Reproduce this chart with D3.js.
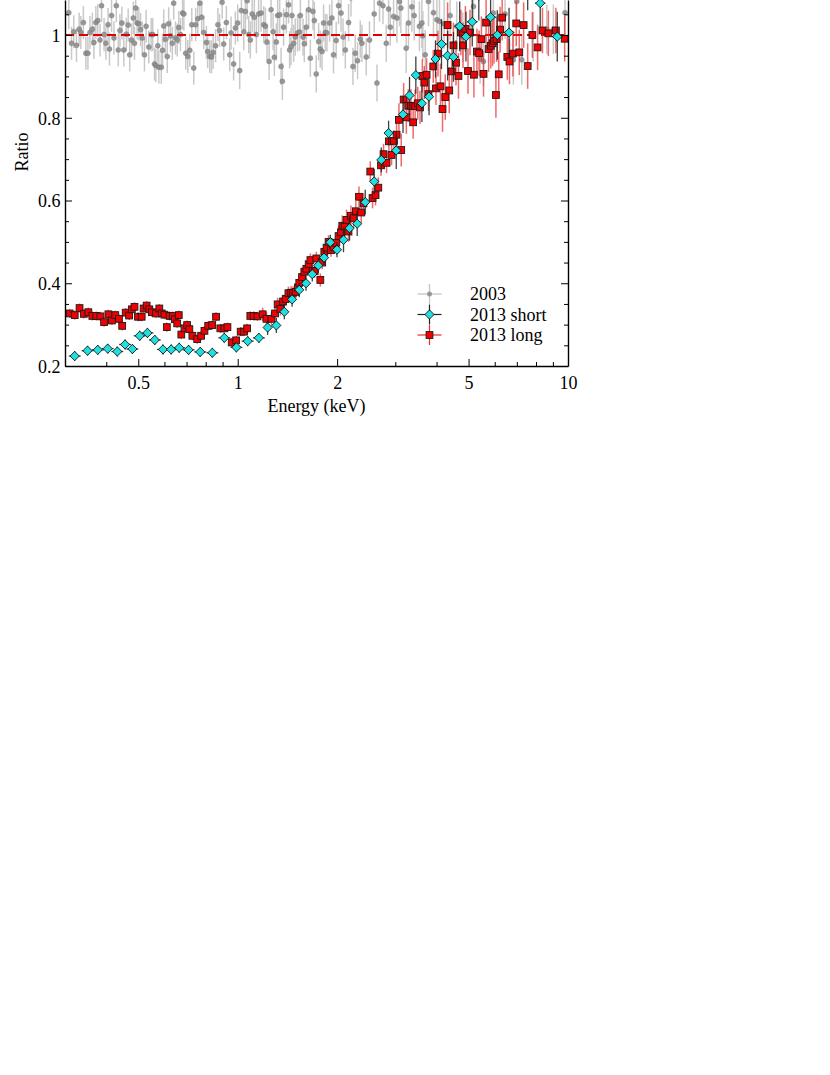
<!DOCTYPE html>
<html><head><meta charset="utf-8">
<script src="https://cdn.jsdelivr.net/npm/d3@7"></script>
<style>
body{margin:0;background:#fff}
svg{display:block}
text{font-family:"Liberation Serif","Times New Roman",serif;font-size:18px;fill:#000}
</style>
</head><body>
<svg id="chart" width="830" height="1075"></svg>
<script>
// ---------- data (energy keV, ratio) ----------
const series2003 = [
[0.308,1.054],[0.314,0.980],[0.319,1.008],[0.325,0.975],[0.331,1.014],[0.335,1.006],[0.341,1.030],[0.347,0.956],
[0.352,0.956],[0.357,1.006],[0.363,1.014],[0.367,0.982],[0.372,1.030],[0.377,1.035],[0.383,0.988],[0.387,1.071],
[0.394,1.001],[0.399,0.980],[0.405,1.025],[0.409,0.966],[0.415,1.047],[0.422,0.993],[0.429,1.071],[0.435,0.964],
[0.440,1.011],[0.446,1.029],[0.452,0.964],[0.460,1.002],[0.466,1.024],[0.471,0.952],[0.477,0.988],[0.483,1.041],
[0.487,0.980],[0.491,1.065],[0.496,1.029],[0.502,1.027],[0.508,1.013],[0.514,0.993],[0.522,0.952],[0.528,1.021],
[0.538,0.971],[0.547,1.001],[0.553,1.001],[0.560,0.930],[0.565,0.926],[0.573,0.974],[0.577,0.922],[0.587,0.922],
[0.592,0.963],[0.597,1.022],[0.604,0.990],[0.612,0.948],[0.618,1.027],[0.626,0.998],[0.634,0.980],[0.640,1.077],
[0.648,0.993],[0.656,0.988],[0.663,1.018],[0.671,1.001],[0.681,1.053],[0.687,1.051],[0.696,0.956],[0.706,0.948],
[0.716,0.963],[0.726,1.025],[0.736,0.920],[0.746,1.025],[0.757,1.039],[0.768,1.077],[0.778,1.043],[0.789,1.006],
[0.804,0.982],[0.811,0.960],[0.823,0.948],[0.833,0.947],[0.843,0.958],[0.857,0.974],[0.871,1.025],[0.881,1.011],
[0.897,1.079],[0.907,0.978],[0.924,1.030],[0.946,0.952],[0.955,1.005],[0.972,0.930],[0.984,1.017],[1.000,1.029],
[1.014,0.914],[1.026,1.059],[1.043,1.008],[1.055,1.057],[1.068,1.083],[1.080,1.001],[1.092,0.988],[1.106,1.051],
[1.123,1.043],[1.139,1.001],[1.157,1.051],[1.177,1.053],[1.199,1.025],[1.213,1.021],[1.227,0.983],[1.245,0.936],
[1.262,1.061],[1.280,1.008],[1.291,0.946],[1.309,0.983],[1.321,1.047],[1.340,1.049],[1.353,0.924],[1.365,0.888],
[1.377,1.019],[1.404,1.049],[1.426,1.073],[1.436,0.964],[1.450,0.972],[1.460,1.047],[1.477,0.980],[1.494,0.995],
[1.518,1.005],[1.539,1.007],[1.548,1.047],[1.577,0.995],[1.591,0.979],[1.614,1.019],[1.640,1.061],[1.659,0.944],
[1.690,1.057],[1.706,1.035],[1.729,0.906],[1.758,0.984],[1.778,0.966],[1.800,0.960],[1.820,1.029],[1.842,1.006],
[1.863,1.005],[1.898,1.029],[1.929,1.041],[1.950,0.952],[1.987,0.987],[2.020,1.071],[2.055,1.053],[2.084,0.995],
[2.117,0.964],[2.166,1.030],[2.203,1.090],[2.233,0.924],[2.269,0.956],[2.306,0.938],[2.350,0.990],[2.377,0.980],
[2.450,0.947],[2.506,0.988],[2.590,1.051],[2.640,0.884],[2.688,1.077],[2.753,1.071],[2.817,0.980],[2.863,1.063],
[2.897,1.019],[2.964,1.045],[3.034,1.041],[3.090,1.081],[3.119,1.065],[3.236,0.968],[3.289,1.029],[3.367,1.068],
[3.422,1.047],[3.550,1.021],[3.611,1.029],[3.635,0.998],[3.696,0.952],[3.781,1.081],[3.915,1.054],[4.009,1.037],
[4.083,1.033],[4.217,1.027],[4.397,1.047],[4.606,1.021],[4.804,0.995],[5.174,1.069],[5.420,0.942],[5.546,0.936],
[5.943,1.053],[6.447,1.051],[6.833,0.940],[6.996,1.081],[7.245,0.940],[7.852,0.996],[8.624,1.014],[9.030,1.014],
[9.794,1.054]
];
const series2013short = [
[0.321,0.224],[0.351,0.237],[0.377,0.239],[0.404,0.242],[0.432,0.235],[0.456,0.252],[0.480,0.241],[0.505,0.273],
[0.533,0.280],[0.561,0.263],[0.594,0.240],[0.629,0.240],[0.665,0.244],[0.710,0.239],[0.770,0.234],[0.838,0.232],
[0.911,0.268],[0.991,0.245],[1.072,0.260],[1.159,0.268],[1.232,0.293],[1.309,0.298],[1.384,0.331],[1.461,0.361],
[1.536,0.384],[1.610,0.400],[1.682,0.422],[1.754,0.443],[1.826,0.462],[1.907,0.499],[1.998,0.481],[2.091,0.505],
[2.181,0.533],[2.300,0.544],[2.433,0.596],[2.590,0.646],[2.721,0.698],[2.863,0.763],[3.020,0.721],[3.166,0.808],
[3.313,0.854],[3.462,0.903],[3.611,0.835],[3.796,0.851],[3.970,0.942],[4.140,0.978],[4.320,0.950],[4.500,0.947],
[4.700,1.021],[4.910,0.996],[5.130,1.032],[5.370,1.095],[5.830,1.043],[6.110,1.000],[6.630,1.006],[7.550,1.120],
[8.240,1.077],[9.280,0.996]
];
const series2013long = [
[0.310,0.327],[0.321,0.323],[0.332,0.340],[0.342,0.326],[0.353,0.330],[0.363,0.321],[0.373,0.321],[0.384,0.320],
[0.394,0.306],[0.406,0.325],[0.416,0.310],[0.426,0.323],[0.437,0.314],[0.447,0.297],[0.458,0.329],[0.469,0.322],
[0.478,0.337],[0.487,0.343],[0.499,0.319],[0.512,0.319],[0.519,0.339],[0.530,0.346],[0.540,0.337],[0.550,0.330],
[0.566,0.327],[0.579,0.339],[0.589,0.327],[0.600,0.324],[0.610,0.294],[0.622,0.321],[0.636,0.321],[0.645,0.313],
[0.656,0.303],[0.663,0.323],[0.675,0.276],[0.690,0.291],[0.703,0.299],[0.714,0.289],[0.729,0.273],[0.754,0.265],
[0.775,0.273],[0.793,0.285],[0.814,0.297],[0.837,0.299],[0.860,0.319],[0.886,0.291],[0.911,0.291],[0.931,0.294],
[0.959,0.257],[0.989,0.262],[1.021,0.283],[1.045,0.283],[1.068,0.291],[1.092,0.321],[1.118,0.321],[1.148,0.320],
[1.190,0.325],[1.222,0.314],[1.265,0.314],[1.297,0.327],[1.321,0.349],[1.346,0.338],[1.372,0.356],[1.397,0.362],
[1.424,0.376],[1.451,0.377],[1.471,0.377],[1.498,0.379],[1.522,0.390],[1.536,0.401],[1.566,0.415],[1.591,0.428],
[1.614,0.435],[1.640,0.446],[1.660,0.456],[1.686,0.430],[1.710,0.429],[1.730,0.460],[1.779,0.408],[1.803,0.450],
[1.829,0.476],[1.858,0.486],[1.884,0.500],[1.916,0.480],[1.951,0.487],[1.988,0.498],[2.020,0.514],[2.054,0.523],
[2.073,0.539],[2.107,0.537],[2.136,0.553],[2.165,0.525],[2.202,0.563],[2.243,0.557],[2.279,0.574],[2.329,0.609],
[2.366,0.571],[2.403,0.593],[2.520,0.670],[2.560,0.606],[2.614,0.613],[2.665,0.631],[2.716,0.685],[2.764,0.712],
[2.823,0.691],[2.869,0.743],[2.924,0.710],[2.972,0.744],[3.027,0.759],[3.077,0.795],[3.127,0.722],[3.180,0.844],
[3.240,0.801],[3.283,0.829],[3.346,0.829],[3.398,0.789],[3.445,0.828],[3.509,0.835],[3.564,0.825],[3.622,0.901],
[3.672,0.885],[3.732,0.904],[3.781,0.857],[3.909,0.924],[3.984,0.871],[4.040,0.955],[4.110,0.876],[4.170,0.821],
[4.250,0.850],[4.320,1.024],[4.370,0.866],[4.450,0.912],[4.500,0.975],[4.580,0.933],[4.660,0.901],[4.740,1.006],
[4.810,0.975],[4.890,1.015],[4.980,0.913],[5.050,1.006],[5.190,0.904],[5.300,0.960],[5.380,0.956],[5.470,0.990],
[5.550,0.906],[5.650,1.030],[5.750,0.966],[5.840,0.974],[5.910,0.980],[5.970,0.986],[6.050,0.855],[6.080,0.990],
[6.170,0.905],[6.230,1.013],[6.320,1.042],[6.550,0.947],[6.650,0.936],[6.810,0.955],[6.970,1.028],[7.120,0.958],
[7.340,1.024],[7.550,0.925],[7.800,1.000],[8.090,0.970],[8.370,1.011],[8.720,1.004],[9.190,1.011],[9.770,0.991]
];
// estimated 1-sigma ratio errors, by energy band: [band start keV, half-error]
const err2003 = [[0.3,0.040],[1.0,0.045],[3.0,0.060]];
const err2013short = [[0.3,0.012],[1.2,0.018],[2.0,0.030],[3.0,0.045],[4.0,0.060]];
const err2013long = [[0.3,0.011],[1.15,0.016],[2.0,0.025],[3.0,0.040],[4.0,0.055]];
// estimated energy-bin half-widths (dex), by energy band
const bin2003 = [[0.3,0.006]];
const bin2013short = [[0.3,0.018],[1.2,0.010],[4.0,0.016]];
const bin2013long = [[0.3,0.006]];

const xTickValues = [0.5, 1, 2, 5, 10];
const xTickLabels = ["0.5", "1", "2", "5", "10"];
const xMinorTicks = [0.4, 0.6, 0.7, 0.8, 0.9, 3, 4, 6, 7, 8, 9];
const yTickValues = [0.2, 0.4, 0.6, 0.8, 1];
const yTickLabels = ["0.2", "0.4", "0.6", "0.8", "1"];
const yMinorTicks = [0.25,0.3,0.35,0.45,0.5,0.55,0.65,0.7,0.75,0.85,0.9,0.95,1.05];
const legendLabels = ["2003", "2013 short", "2013 long"];
const referenceLevel = 1;

// ---------- layout ----------
const L = 65, R = 568, T = 0, B = 366;
const svg = d3.select("#chart");
const x = d3.scaleLog().domain([0.3, 10]).range([L, R]);
const y = d3.scaleLinear().domain([0.2, 1.0846]).range([B, T]);

const band = (bands, e) => { let v = bands[0][1]; for (const b of bands) if (e >= b[0]) v = b[1]; return v; };

svg.append("defs").append("clipPath").attr("id","clip")
  .append("rect").attr("x",L).attr("y",T).attr("width",R-L).attr("height",B-T);
const plot = svg.append("g").attr("clip-path","url(#clip)");

function errBars(g, data, errs, bins, color, width, opacity) {
  const gg = g.append("g").attr("stroke", color).attr("stroke-width", width).attr("opacity", opacity);
  gg.selectAll("line.v").data(data).join("line").attr("class","v")
    .attr("x1", d => x(d[0])).attr("x2", d => x(d[0]))
    .attr("y1", d => y(d[1] - band(errs, d[0]))).attr("y2", d => y(d[1] + band(errs, d[0])));
  gg.selectAll("line.h").data(data).join("line").attr("class","h")
    .attr("y1", d => y(d[1])).attr("y2", d => y(d[1]))
    .attr("x1", d => x(d[0] / Math.pow(10, band(bins, d[0]))))
    .attr("x2", d => x(d[0] * Math.pow(10, band(bins, d[0]))));
}

// 2003
errBars(plot, series2003, err2003, bin2003, "#c4c4c4", 1.5, 0.9);
plot.append("g").selectAll("circle").data(series2003).join("circle")
  .attr("cx", d => x(d[0])).attr("cy", d => y(d[1])).attr("r", 2.5)
  .attr("fill", "#8c8c8c").attr("stroke", "#707070").attr("stroke-width", 0.5).attr("opacity", 0.85);

// reference line
plot.append("line").attr("x1", L).attr("x2", R).attr("y1", y(referenceLevel)).attr("y2", y(referenceLevel))
  .attr("stroke", "#e00000").attr("stroke-width", 1.8).attr("stroke-dasharray", "9,5");

// 2013 long
errBars(plot, series2013long, err2013long, bin2013long, "#ee2a2a", 1.5, 0.7);
const sq = 6.8;
plot.append("g").selectAll("rect").data(series2013long).join("rect")
  .attr("x", d => x(d[0]) - sq/2).attr("y", d => y(d[1]) - sq/2).attr("width", sq).attr("height", sq)
  .attr("fill", "#f00000").attr("stroke", "#1a1a1a").attr("stroke-width", 0.9);

// 2013 short
errBars(plot, series2013short, err2013short, bin2013short, "#202020", 1.3, 0.85);
const dr = 4.6;
const diamondPath = `M0,${-dr}L${dr},0L0,${dr}L${-dr},0Z`;
plot.append("g").selectAll("path").data(series2013short).join("path")
  .attr("transform", d => `translate(${x(d[0])},${y(d[1])})`).attr("d", diamondPath)
  .attr("fill", "#1fe0e0").attr("stroke", "#000").attr("stroke-width", 0.8);

// ---------- axes ----------
function styleAxis(g, lw) {
  g.select(".domain").attr("stroke", "#000").attr("stroke-width", lw);
  g.selectAll(".tick line").attr("stroke", "#000").attr("stroke-width", 1);
  g.selectAll("text").attr("font-family", null).attr("font-size", null).attr("fill", "#000");
}
const xMajor = svg.append("g").attr("transform", `translate(0,${B})`)
  .call(d3.axisBottom(x).tickValues(xTickValues).tickFormat((d,i) => xTickLabels[i])
        .tickSizeInner(-7).tickSizeOuter(0).tickPadding(10));
styleAxis(xMajor, 1.4);
const xMin = svg.append("g").attr("transform", `translate(0,${B})`)
  .call(d3.axisBottom(x).tickValues(xMinorTicks).tickFormat("").tickSizeInner(-4).tickSizeOuter(0));
xMin.select(".domain").remove(); styleAxis(xMin, 1);

const yMajor = svg.append("g").attr("transform", `translate(${L},0)`)
  .call(d3.axisLeft(y).tickValues(yTickValues).tickFormat((d,i) => yTickLabels[i])
        .tickSizeInner(-7).tickSizeOuter(0).tickPadding(4.5));
styleAxis(yMajor, 1.4);
yMajor.selectAll("text").attr("dy", "0.35em");
const yMin = svg.append("g").attr("transform", `translate(${L},0)`)
  .call(d3.axisLeft(y).tickValues(yMinorTicks).tickFormat("").tickSizeInner(-4).tickSizeOuter(0));
yMin.select(".domain").remove(); styleAxis(yMin, 1);

const yRight = svg.append("g").attr("transform", `translate(${R},0)`)
  .call(d3.axisRight(y).tickValues(yTickValues).tickFormat("").tickSizeInner(-7).tickSizeOuter(0));
styleAxis(yRight, 1.4);
const yRightMin = svg.append("g").attr("transform", `translate(${R},0)`)
  .call(d3.axisRight(y).tickValues(yMinorTicks).tickFormat("").tickSizeInner(-4).tickSizeOuter(0));
yRightMin.select(".domain").remove(); styleAxis(yRightMin, 1);

// axis titles
svg.append("text").attr("x", (L + R) / 2).attr("y", 412).attr("text-anchor", "middle").text("Energy (keV)");
svg.append("text").attr("transform", "translate(28,152) rotate(-90)").attr("text-anchor", "middle").text("Ratio");

// ---------- legend ----------
const lx = 429.5, tx = 470, rows = [294, 314.5, 335];
const leg = svg.append("g");
// 2003
leg.append("line").attr("x1", lx-12).attr("x2", lx+12).attr("y1", rows[0]).attr("y2", rows[0]).attr("stroke", "#c4c4c4").attr("stroke-width", 1.3);
leg.append("line").attr("x1", lx).attr("x2", lx).attr("y1", rows[0]-10).attr("y2", rows[0]+10).attr("stroke", "#c4c4c4").attr("stroke-width", 1.3);
leg.append("circle").attr("cx", lx).attr("cy", rows[0]).attr("r", 2.5).attr("fill", "#8c8c8c").attr("opacity", 0.85);
// 2013 short
leg.append("line").attr("x1", lx-12).attr("x2", lx+12).attr("y1", rows[1]).attr("y2", rows[1]).attr("stroke", "#202020").attr("stroke-width", 1.2);
leg.append("line").attr("x1", lx).attr("x2", lx).attr("y1", rows[1]-10).attr("y2", rows[1]+10).attr("stroke", "#202020").attr("stroke-width", 1.2);
leg.append("path").attr("transform", `translate(${lx},${rows[1]})`).attr("d", diamondPath).attr("fill", "#1fe0e0").attr("stroke", "#000").attr("stroke-width", 0.8);
// 2013 long
leg.append("line").attr("x1", lx-12).attr("x2", lx+12).attr("y1", rows[2]).attr("y2", rows[2]).attr("stroke", "#ee2a2a").attr("stroke-width", 1.2);
leg.append("line").attr("x1", lx).attr("x2", lx).attr("y1", rows[2]-10).attr("y2", rows[2]+10).attr("stroke", "#ee2a2a").attr("stroke-width", 1.2);
leg.append("rect").attr("x", lx-sq/2).attr("y", rows[2]-sq/2).attr("width", sq).attr("height", sq).attr("fill", "#f00000").attr("stroke", "#1a1a1a").attr("stroke-width", 0.9);
leg.selectAll("text").data(legendLabels).join("text")
  .attr("x", tx).attr("y", (d,i) => rows[i] + 6).text(d => d);
</script>
</body></html>
